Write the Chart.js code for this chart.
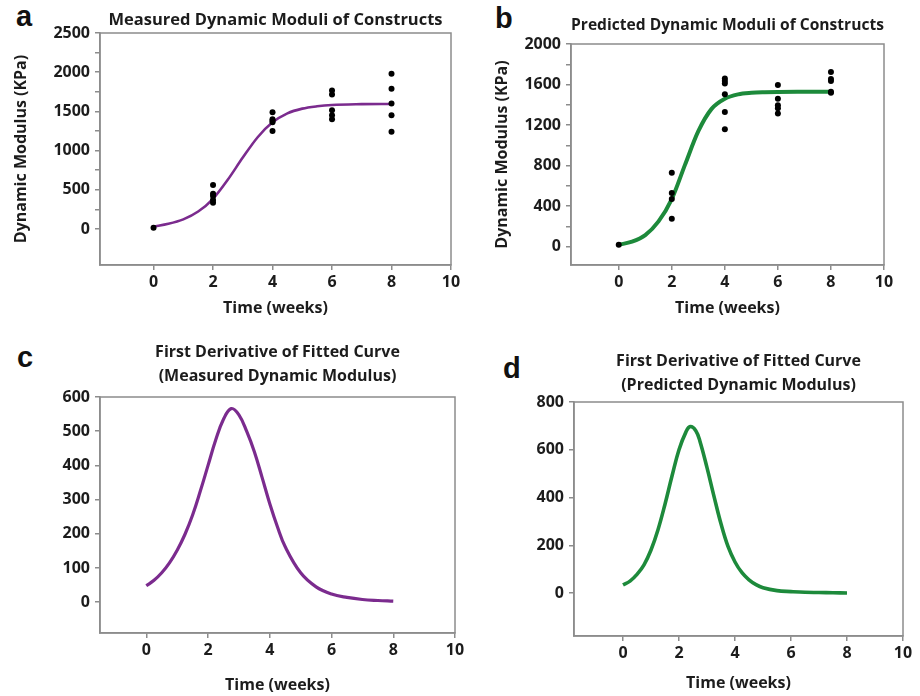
<!DOCTYPE html>
<html>
<head>
<meta charset="utf-8">
<script src="https://cdn.jsdelivr.net/npm/chart.js@4.4.1/dist/chart.umd.min.js"></script>
<style>
    body { margin: 0; background: #fff; }
    #wrap { position: relative; width: 920px; height: 696px; overflow: hidden; background: #fff; }
    canvas { position: absolute; }
    .tag { position: absolute; font-family: 'Liberation Sans', Arial, sans-serif; font-weight: bold;
           font-size: 29px; line-height: 28px; color: #111; }
</style>
</head>
<body>
<div id="wrap">
    <div class="tag" style="left:16px;top:2px">a</div>
    <div class="tag" style="left:495px;top:4px">b</div>
    <div class="tag" style="left:17px;top:343px">c</div>
    <div class="tag" style="left:503px;top:354px">d</div>
    <canvas id="chartA" width="475" height="325" style="left:0;top:0"></canvas>
    <canvas id="chartB" width="438" height="325" style="left:470px;top:0"></canvas>
    <canvas id="chartC" width="480" height="361" style="left:0;top:335px"></canvas>
    <canvas id="chartD" width="450" height="361" style="left:470px;top:335px"></canvas>
</div>
<script>
//#region === Data ===

const xTicks = [0, 2, 4, 6, 8, 10];

// a: measured moduli (KPa)
const dotWeeksA = [0, 2, 2, 2, 2, 2, 4, 4, 4, 4, 4, 6, 6, 6, 6, 6, 8, 8, 8, 8, 8];
const dotModA   = [15, 560, 450, 420, 370, 335, 1490, 1400, 1380, 1360, 1250,
                   1765, 1715, 1515, 1450, 1400, 1980, 1790, 1600, 1450, 1240];
const fitWeeksA = [0, 0.5, 1, 1.5, 2, 2.5, 3, 3.5, 4, 4.5, 5, 5.5, 6, 7, 8];
const fitModA   = [30, 65, 122, 222, 385, 630, 910, 1170, 1360, 1475, 1535, 1565, 1582, 1592, 1595];
const yTicksA   = [0, 500, 1000, 1500, 2000, 2500];
const yMarksA   = [0, 250, 500, 750, 1000, 1250, 1500, 1750, 2000, 2250, 2500];

// b: predicted moduli (KPa)
const dotWeeksB = [0, 2, 2, 2, 2, 4, 4, 4, 4, 4, 4, 6, 6, 6, 6, 6, 8, 8, 8, 8, 8];
const dotModB   = [20, 730, 530, 470, 275, 1660, 1635, 1610, 1505, 1330, 1160,
                   1595, 1460, 1395, 1365, 1315, 1725, 1655, 1635, 1530, 1520];
const fitWeeksB = [0, 0.5, 1, 1.5, 2, 2.5, 3, 3.5, 4, 4.5, 5, 5.5, 6, 7, 8];
const fitModB   = [20, 50, 115, 250, 470, 810, 1140, 1360, 1460, 1503, 1518, 1524, 1527, 1528, 1528];
const yTicksB   = [0, 400, 800, 1200, 1600, 2000];
const yMarksB   = [0, 200, 400, 600, 800, 1000, 1200, 1400, 1600, 1800, 2000];

// c: first derivative of measured fit
const derWeeksC = [0, 0.25, 0.5, 0.75, 1, 1.25, 1.5, 1.75, 2, 2.25, 2.5, 2.75, 3, 3.25, 3.5, 3.75, 4, 4.25, 4.5, 5, 5.5, 6, 6.5, 7, 7.5, 8];
const derValC   = [48, 64, 86, 115, 152, 198, 255, 325, 400, 475, 535, 566, 548, 500, 440, 365, 288, 220, 162, 86, 45, 24, 14, 8, 5, 3];
const yTicksC   = [0, 100, 200, 300, 400, 500, 600];

// d: first derivative of predicted fit
const derWeeksD = [0, 0.25, 0.5, 0.75, 1, 1.25, 1.5, 1.75, 2, 2.25, 2.4, 2.6, 2.75, 3, 3.25, 3.5, 3.75, 4, 4.25, 4.5, 4.75, 5, 5.5, 6, 6.5, 7, 7.5, 8];
const derValD   = [34, 50, 78, 118, 180, 265, 372, 490, 600, 675, 697, 680, 635, 525, 405, 290, 195, 130, 85, 55, 35, 22, 10, 6, 3, 2, 1, 0];
const yTicksD   = [0, 200, 400, 600, 800];

//#endregion

//#region === Chart helpers ===

const FONT = '"Open Sans", Lato, sans-serif';
const TXT = '#1c1c1c';
const FRAME = '#8c8c8c';
const PURPLE = '#7b2b8e';
const GREEN = '#1d8a3b';

// draw the full box round the plot area
const framePlugin = {
    id: 'frame',
    afterDraw(chart) {
        const { ctx, chartArea: a } = chart;
        ctx.save();
        ctx.strokeStyle = FRAME;
        ctx.lineWidth = 1.5;
        ctx.strokeRect(a.left, a.top, a.right - a.left, a.bottom - a.top);
        ctx.restore();
    }
};

const toPoints = (xs, ys) => xs.map((x, i) => ({ x, y: ys[i] }));

function makeChart(id, o) {
    const datasets = [];
    if (o.dotX) {
        datasets.push({
            data: toPoints(o.dotX, o.dotY),
            showLine: false,
            pointRadius: 3,
            pointBackgroundColor: '#000',
            pointBorderWidth: 0,
            order: 0
        });
    }
    datasets.push({
        data: toPoints(o.fitX, o.fitY),
        showLine: true,
        borderColor: o.color,
        borderWidth: o.lineWidth,
        pointRadius: 0,
        cubicInterpolationMode: o.smooth || 'monotone',
        tension: 0.4,
        order: 1
    });

    const tickFont = { family: FONT, size: 16, weight: 'bold' };
    const marks = o.yMarks || o.yTicks;

    return new Chart(document.getElementById(id), {
        type: 'scatter',
        data: { datasets },
        plugins: [framePlugin],
        options: {
            responsive: false,
            animation: false,
            events: [],
            layout: { padding: { left: 0, top: 0, bottom: 0, right: o.rightPad } },
            scales: {
                x: {
                    type: 'linear',
                    min: o.xMin,
                    max: 10,
                    afterBuildTicks: s => { s.ticks = xTicks.map(v => ({ value: v })); },
                    afterFit: s => { s.height = o.xBoxH; },
                    ticks: { font: tickFont, color: TXT, padding: 3, autoSkip: false, maxRotation: 0 },
                    grid: { drawOnChartArea: false, tickLength: 5, color: FRAME, lineWidth: 1.5 },
                    border: { color: FRAME, width: 1.5 },
                    title: {
                        display: true, text: 'Time (weeks)', color: TXT,
                        font: { family: FONT, size: 16, weight: 'bold', lineHeight: 1.2 },
                        padding: { top: 0, bottom: o.xTitlePad }
                    }
                },
                y: {
                    type: 'linear',
                    min: o.yMin,
                    max: o.yTicks[o.yTicks.length - 1],
                    afterBuildTicks: s => { s.ticks = marks.map(v => ({ value: v })); },
                    afterFit: s => { s.width = o.yBoxW; },
                    ticks: {
                        font: tickFont, color: TXT, padding: 5, autoSkip: false,
                        callback: v => o.yTicks.includes(v) ? String(v) : ''
                    },
                    grid: { drawOnChartArea: false, tickLength: 5, color: FRAME, lineWidth: 1.5 },
                    border: { color: FRAME, width: 1.5 },
                    title: {
                        display: !!o.yTitle, text: o.yTitle || '', color: TXT,
                        font: { family: FONT, size: 16, weight: 'bold', lineHeight: 1.2 },
                        padding: { top: o.yTitlePad || 0, bottom: 0 }
                    }
                }
            },
            plugins: {
                legend: { display: false },
                tooltip: { enabled: false },
                title: {
                    display: true, text: o.title, color: TXT, fullSize: false,
                    font: { family: FONT, size: o.titleSize || 16, weight: 'bold', lineHeight: o.titleLH },
                    padding: { top: o.titleTop, bottom: o.titleBottom }
                }
            }
        }
    });
}

//#endregion

//#region === Build ===

makeChart('chartA', {
    title: 'Measured Dynamic Moduli of Constructs', titleSize: 16.5, titleLH: 1.2, titleTop: 10.1, titleBottom: 3.1,
    dotX: dotWeeksA, dotY: dotModA, fitX: fitWeeksA, fitY: fitModA,
    color: PURPLE, lineWidth: 2.6,
    xMin: -1.8, yMin: -460, yTicks: yTicksA, yMarks: yMarksA,
    yTitle: 'Dynamic Modulus (KPa)', yTitlePad: 11.4, yBoxW: 100,
    xBoxH: 60, xTitlePad: 7.4, rightPad: 24
});

makeChart('chartB', {
    title: 'Predicted Dynamic Moduli of Constructs', titleSize: 16.5, titleLH: 1.2, titleTop: 15.1, titleBottom: 9.1,
    dotX: dotWeeksB, dotY: dotModB, fitX: fitWeeksB, fitY: fitModB,
    color: GREEN, lineWidth: 4,
    xMin: -1.8, yMin: -180, yTicks: yTicksB, yMarks: yMarksB,
    yTitle: 'Dynamic Modulus (KPa)', yTitlePad: 22.4, yBoxW: 101,
    xBoxH: 60, xTitlePad: 7.4, rightPad: 24
});

makeChart('chartC', {
    title: ['First Derivative of Fitted Curve', '(Measured Dynamic Modulus)'],
    titleLH: 1.5, titleTop: 5, titleBottom: 9,
    fitX: derWeeksC, fitY: derValC, smooth: 'default',
    color: PURPLE, lineWidth: 3.2,
    xMin: -1.5, yMin: -90, yTicks: yTicksC,
    yBoxW: 100, xBoxH: 63, xTitlePad: 1.4, rightPad: 25
});

makeChart('chartD', {
    title: ['First Derivative of Fitted Curve', '(Predicted Dynamic Modulus)'],
    titleLH: 1.5, titleTop: 14, titleBottom: 5,
    fitX: derWeeksD, fitY: derValD, smooth: 'default',
    color: GREEN, lineWidth: 3.6,
    xMin: -1.75, yMin: -180, yTicks: yTicksD,
    yBoxW: 104, xBoxH: 60, xTitlePad: 3.4, rightPad: 17
});

//#endregion
</script>
</body>
</html>
